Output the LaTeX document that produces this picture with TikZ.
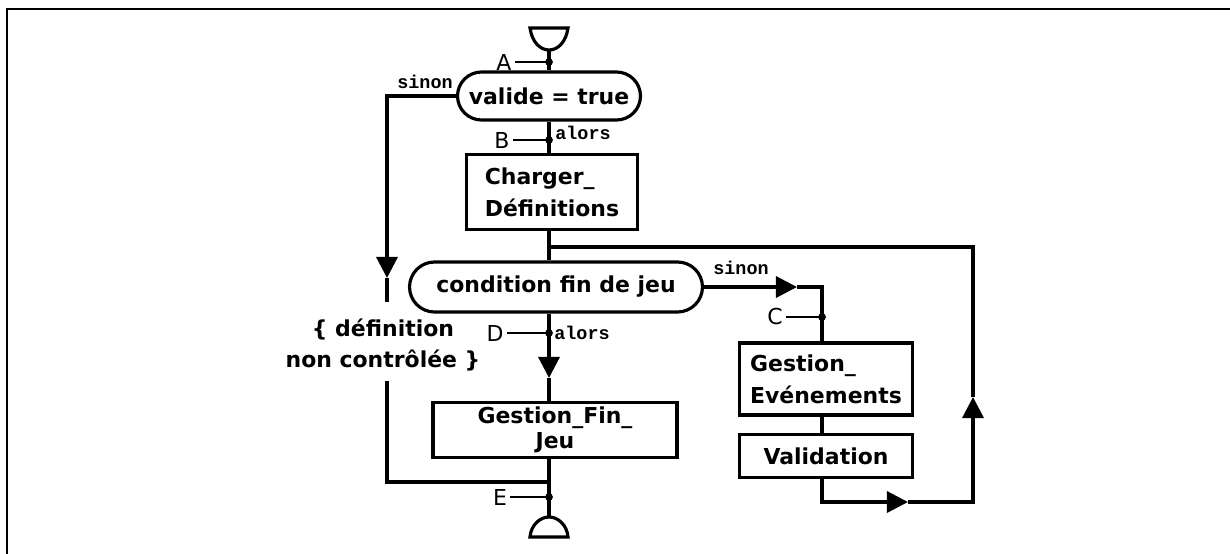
\documentclass[tikz,border=0pt]{standalone}
\usepackage{fontspec}
\setmainfont{DejaVu Sans}
\newfontfamily\condfont{Liberation Mono}
\usetikzlibrary{shapes.misc,arrows.meta}

\begin{document}
\begin{tikzpicture}[x=0.02cm,y=-0.02cm,line width=1.8pt,
pill/.style={rounded rectangle,draw,inner sep=0pt,font=\fontsize{12.5}{18}\selectfont\bfseries},
box/.style={rectangle,draw,inner sep=0pt,font=\fontsize{12.5}{18}\selectfont\bfseries},
tag/.style={inner sep=1pt,font=\fontsize{12.5}{14}\selectfont},
cond/.style={inner sep=0pt,font=\condfont\fontsize{10.5}{12}\selectfont\bfseries},
tick/.style={line width=1.1pt},
flow/.style={-{Triangle[length=12pt,width=12pt]}}
]
\useasboundingbox (0,0) rectangle (1230,554);
\draw[line width=1.4pt] (7,554) -- (7,9) -- (1230,9);

% boites
\node[pill,minimum width=3.66cm,minimum height=0.96cm] (valide) at (549,96) {valide = true};
\node[box,minimum width=3.42cm,minimum height=1.5cm,align=left] (charger) at (552,192) {Charger\_\\Définitions};
\node[pill,minimum width=5.86cm,minimum height=1cm] (finjeu) at (556,287) {condition fin de jeu};
\node[box,minimum width=4.88cm,minimum height=1.1cm,align=center] (gfin) at (555,430) {Gestion\_Fin\_\\[-4pt]Jeu};
\node[box,minimum width=3.46cm,minimum height=1.44cm,align=left] (gevt) at (826,379) {Gestion\_\\Evénements};
\node[box,minimum width=3.46cm,minimum height=0.86cm] (valid) at (826,456) {Validation};
\node[align=center,font=\fontsize{12.5}{18}\selectfont\bfseries] (note) at (383,345) {\{ définition\\non contrôlée \}};

% debut et fin
\coordinate (debut) at (549,50);
\coordinate (fin) at (549,517);
\draw (530,28) -- (568,28) .. controls (566,42) and (558,50) .. (debut) .. controls (540,50) and (532,42) .. (530,28) -- cycle;
\draw (530,537) .. controls (531,525) and (540,517) .. (fin) .. controls (558,517) and (567,525) .. (568,537) -- cycle;

% points
\coordinate (A) at (549,62);
\coordinate (B) at (549,140);
\coordinate (C) at (822,317);
\coordinate (D) at (549,333);
\coordinate (E) at (549,497);
\foreach \p in {A,B,C,D,E}
  \fill (\p) circle (2.2pt);
\node[tag] (tA) at (504,62) {A};
\node[tag] (tB) at (502,140) {B};
\node[tag] (tC) at (775,317) {C};
\node[tag] (tD) at (495,333) {D};
\node[tag] (tE) at (500,497) {E};
\foreach \p in {A,B,C,D,E}
  \draw[tick] (t\p.east) -- (\p);

\node[cond] (sinonA) at (425,82) {sinon};
\node[cond] (alorsB) at (583,133) {alors};
\node[cond] (sinonC) at (741,268) {sinon};
\node[cond] (alorsD) at (582,333) {alors};

% axe principal
\coordinate (loop) at (549,247);
\coordinate (pD) at (549,378);
\draw (debut) -- (valide.north);
\draw (valide.south) -- (valide.south |- charger.north);
\draw (charger.south -| valide.south) -- (finjeu.north -| valide.south);
\draw[flow] (finjeu.south -| valide.south) -- (pD);
\draw (pD) -- (pD |- gfin.north);
\draw (gfin.south -| valide.south) -- (fin);

% sinon : definition non controlee
\coordinate (pL) at (387,278);
\coordinate (gapL) at (387,302);
\coordinate (gapL2) at (387,381);
\coordinate (joinE) at (549,482);
\draw[flow] (valide.west) -| (pL);
\draw (pL) -- (gapL);
\draw (gapL2) |- (joinE);

% boucle de jeu
\coordinate (pR) at (797,287);
\coordinate (pB) at (908,502);
\coordinate (pU) at (973,397);
\draw[flow] (finjeu.east) -- (pR);
\draw (pR) -| (gevt.north -| C);
\draw (gevt.south -| C) -- (valid.north -| C);
\draw[flow] (valid.south -| C) |- (pB);
\draw[flow] (pB) -| (pU);
\draw (pU) |- (loop);
\end{tikzpicture}
\end{document}
